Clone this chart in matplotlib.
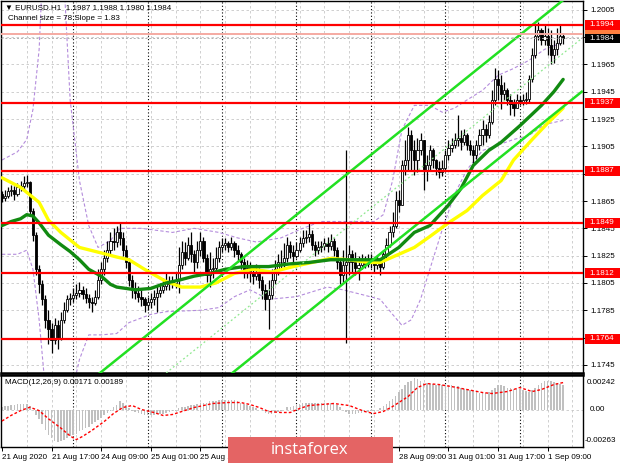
import matplotlib.pyplot as plt
from matplotlib.patches import Rectangle
from matplotlib.transforms import blended_transform_factory

plt.rcParams["font.family"] = ["Liberation Sans", "DejaVu Sans"]

# EURUSD H1 bars, 21 Aug 2020 01:00 .. 1 Sep 2020 14:00
closes = [
    1.1867, 1.1869, 1.1872, 1.1873, 1.1870, 1.1875, 1.1876, 1.1878, 1.1879, 1.1858,
    1.1840, 1.1815, 1.1804, 1.1793, 1.1778, 1.1771, 1.1763, 1.1774, 1.1765, 1.1778,
    1.1785, 1.1793, 1.1794, 1.1796, 1.1798, 1.1800, 1.1797, 1.1794, 1.1791, 1.1790,
    1.1795, 1.1807, 1.1815, 1.1823, 1.1829, 1.1836, 1.1835, 1.1842, 1.1838, 1.1829,
    1.1820, 1.1807, 1.1800, 1.1798, 1.1795, 1.1793, 1.1789, 1.1791, 1.1793, 1.1795,
    1.1798, 1.1800, 1.1803, 1.1806, 1.1804, 1.1805, 1.1807, 1.1818, 1.1828, 1.1823,
    1.1833, 1.1826, 1.1820, 1.1829, 1.1836, 1.1823, 1.1811, 1.1815, 1.1816, 1.1823,
    1.1831, 1.1833, 1.1834, 1.1831, 1.1834, 1.1829, 1.1826, 1.1820, 1.1813, 1.1816,
    1.1812, 1.1810, 1.1813, 1.1807, 1.1800, 1.1793, 1.1796, 1.1807, 1.1815, 1.1820,
    1.1820, 1.1823, 1.1833, 1.1828, 1.1825, 1.1829, 1.1834, 1.1838, 1.1839, 1.1841,
    1.1833, 1.1829, 1.1831, 1.1832, 1.1834, 1.1832, 1.1836, 1.1829, 1.1820, 1.1811,
    1.1818, 1.1820, 1.1826, 1.1820, 1.1816, 1.1818, 1.1820, 1.1819, 1.1822, 1.1820,
    1.1818, 1.1820, 1.1817, 1.1826, 1.1833, 1.1842, 1.1847, 1.1866, 1.1862, 1.1891,
    1.1895, 1.1913, 1.1902, 1.1895, 1.1902, 1.1910, 1.1888, 1.1891, 1.1902, 1.1895,
    1.1889, 1.1886, 1.1889, 1.1899, 1.1904, 1.1906, 1.1910, 1.1911, 1.1908, 1.1913,
    1.1906, 1.1902, 1.1899, 1.1906, 1.1913, 1.1918, 1.1913, 1.1923, 1.1939, 1.1954,
    1.1950, 1.1943, 1.1946, 1.1939, 1.1936, 1.1933, 1.1939, 1.1937, 1.1939, 1.1940,
    1.1954, 1.1972, 1.1986, 1.1990, 1.1983, 1.1986, 1.1979, 1.1972, 1.1976, 1.1981,
    1.1986, 1.1984,
]
highs = [
    1.1872, 1.1873, 1.1875, 1.1877, 1.1876, 1.1878, 1.1880, 1.1883, 1.1884, 1.1880,
    1.1860, 1.1842, 1.1818, 1.1807, 1.1796, 1.1785, 1.1776, 1.1779, 1.1778, 1.1784,
    1.1791, 1.1796, 1.1798, 1.1801, 1.1804, 1.1806, 1.1803, 1.1801, 1.1797, 1.1795,
    1.1800, 1.1815, 1.1820, 1.1829, 1.1836, 1.1842, 1.1845, 1.1847, 1.1849, 1.1842,
    1.1833, 1.1823, 1.1811, 1.1806, 1.1803, 1.1800, 1.1795, 1.1795, 1.1798, 1.1800,
    1.1803, 1.1805, 1.1809, 1.1812, 1.1810, 1.1810, 1.1813, 1.1831, 1.1836, 1.1835,
    1.1839, 1.1842, 1.1829, 1.1836, 1.1842, 1.1839, 1.1826, 1.1828, 1.1823, 1.1831,
    1.1836, 1.1838, 1.1838, 1.1836, 1.1839, 1.1836, 1.1833, 1.1828, 1.1823, 1.1822,
    1.1820, 1.1817, 1.1819, 1.1816, 1.1810, 1.1804, 1.1807, 1.1815, 1.1822, 1.1826,
    1.1829, 1.1834, 1.1839, 1.1836, 1.1833, 1.1835, 1.1839, 1.1844, 1.1844, 1.1849,
    1.1844, 1.1836, 1.1836, 1.1836, 1.1838, 1.1839, 1.1841, 1.1838, 1.1831, 1.1823,
    1.1829, 1.1902, 1.1833, 1.1829, 1.1828, 1.1825, 1.1826, 1.1825, 1.1826, 1.1826,
    1.1823, 1.1825, 1.1823, 1.1829, 1.1838, 1.1847, 1.1857, 1.1872, 1.1873, 1.1895,
    1.1910, 1.1919, 1.1917, 1.1910, 1.1911, 1.1915, 1.1910, 1.1899, 1.1906, 1.1904,
    1.1896, 1.1894, 1.1895, 1.1902, 1.1910, 1.1911, 1.1915, 1.1928, 1.1917, 1.1918,
    1.1915, 1.1910, 1.1906, 1.1910, 1.1918, 1.1924, 1.1921, 1.1928, 1.1946, 1.1962,
    1.1961, 1.1957, 1.1952, 1.1948, 1.1943, 1.1940, 1.1943, 1.1942, 1.1943, 1.1945,
    1.1957, 1.1977, 1.1994, 1.1996, 1.1992, 1.1994, 1.1992, 1.1990, 1.1983, 1.1992,
    1.1994, 1.1988,
]
lows = [
    1.1864, 1.1865, 1.1867, 1.1869, 1.1866, 1.1869, 1.1872, 1.1873, 1.1875, 1.1855,
    1.1836, 1.1811, 1.1798, 1.1789, 1.1772, 1.1760, 1.1754, 1.1760, 1.1757, 1.1763,
    1.1776, 1.1784, 1.1789, 1.1791, 1.1793, 1.1795, 1.1793, 1.1790, 1.1787, 1.1784,
    1.1789, 1.1793, 1.1804, 1.1811, 1.1820, 1.1825, 1.1829, 1.1831, 1.1833, 1.1825,
    1.1816, 1.1803, 1.1794, 1.1793, 1.1791, 1.1788, 1.1784, 1.1785, 1.1787, 1.1789,
    1.1784, 1.1795, 1.1798, 1.1800, 1.1800, 1.1801, 1.1801, 1.1798, 1.1815, 1.1818,
    1.1822, 1.1820, 1.1813, 1.1816, 1.1825, 1.1820, 1.1806, 1.1802, 1.1809, 1.1813,
    1.1820, 1.1828, 1.1829, 1.1828, 1.1829, 1.1824, 1.1820, 1.1815, 1.1809, 1.1809,
    1.1806, 1.1804, 1.1807, 1.1801, 1.1793, 1.1785, 1.1771, 1.1793, 1.1804, 1.1811,
    1.1815, 1.1817, 1.1820, 1.1823, 1.1820, 1.1823, 1.1828, 1.1831, 1.1834, 1.1835,
    1.1829, 1.1825, 1.1826, 1.1828, 1.1829, 1.1828, 1.1829, 1.1825, 1.1815, 1.1804,
    1.1806, 1.1761, 1.1811, 1.1813, 1.1811, 1.1807, 1.1815, 1.1816, 1.1817, 1.1816,
    1.1813, 1.1815, 1.1811, 1.1815, 1.1823, 1.1831, 1.1839, 1.1845, 1.1857, 1.1862,
    1.1884, 1.1888, 1.1888, 1.1884, 1.1886, 1.1899, 1.1873, 1.1880, 1.1888, 1.1889,
    1.1884, 1.1882, 1.1883, 1.1888, 1.1895, 1.1901, 1.1904, 1.1905, 1.1902, 1.1906,
    1.1902, 1.1899, 1.1893, 1.1896, 1.1902, 1.1906, 1.1908, 1.1911, 1.1921, 1.1935,
    1.1939, 1.1932, 1.1939, 1.1935, 1.1928, 1.1927, 1.1933, 1.1935, 1.1935, 1.1936,
    1.1937, 1.1952, 1.1970, 1.1983, 1.1979, 1.1979, 1.1972, 1.1965, 1.1966, 1.1972,
    1.1979, 1.1980,
]
# each bar opens at the previous close
opens = [1.1870] + closes[:-1]

# MACD(12,26,9) main values (histogram) for each bar
macd = [
    0.00016, 0.00024, 0.00024, 0.00032, 0.00032, 0.00041, 0.00041, 0.00041, 0.00041, 0.00024,
    0.0, -0.00041, -0.00065, -0.00105, -0.00146, -0.00178, -0.00203, -0.00219, -0.00227, -0.00219,
    -0.00211, -0.00203, -0.00186, -0.00178, -0.0017, -0.00154, -0.00146, -0.0013, -0.00122, -0.00105,
    -0.00089, -0.00073, -0.00057, -0.00041, -0.00024, -0.00008, 0.00016, 0.00032, 0.00057, 0.00049,
    0.00032, 0.00008, -0.00008, -0.00016, -0.00024, -0.00032, -0.00041, -0.00041, -0.00041, -0.00041,
    -0.00032, -0.00032, -0.00032, -0.00024, -0.00016, -0.00008, -0.00008, 0.00008, 0.00016, 0.00016,
    0.00024, 0.00032, 0.00032, 0.00041, 0.00049, 0.00049, 0.00049, 0.00057, 0.00057, 0.00057,
    0.00065, 0.00065, 0.00065, 0.00065, 0.00065, 0.00065, 0.00057, 0.00049, 0.00041, 0.00032,
    0.00024, 0.00016, 0.00008, 0.0, -0.00008, -0.00024, -0.00032, -0.00032, -0.00024, -0.00016,
    -0.00008, 0.0, 0.00016, 0.00016, 0.00024, 0.00032, 0.00041, 0.00049, 0.00049, 0.00049,
    0.00049, 0.00049, 0.00049, 0.00049, 0.00049, 0.00049, 0.00049, 0.00041, 0.00032, 0.00016,
    0.0, -0.00016, -0.00032, -0.00032, -0.00032, -0.00024, -0.00024, -0.00016, -0.00016, -0.00008,
    -0.00008, 0.0, 0.00008, 0.00024, 0.00041, 0.00057, 0.00073, 0.00097, 0.00122, 0.00146,
    0.0017, 0.00194, 0.00203, 0.00219, 0.00211, 0.00203, 0.00186, 0.00186, 0.00178, 0.00178,
    0.0017, 0.0017, 0.0017, 0.0017, 0.0017, 0.0017, 0.00162, 0.00162, 0.00154, 0.00146,
    0.00138, 0.00138, 0.0013, 0.00122, 0.00113, 0.00113, 0.00113, 0.00122, 0.00138, 0.00154,
    0.0017, 0.0017, 0.00162, 0.00154, 0.00154, 0.00146, 0.00146, 0.00146, 0.00138, 0.0013,
    0.00122, 0.00138, 0.00154, 0.0017, 0.00186, 0.00203, 0.00203, 0.00203, 0.00194, 0.00186,
    0.00178, 0.00171,
]
signal_x = [0, 3, 6, 9, 12, 15, 19, 22, 24, 26, 29, 33, 36, 39, 42, 45, 49, 52, 55, 58,
            62, 65, 68, 73, 77, 80, 83, 86, 90, 93, 96, 99, 103, 107, 112, 117, 120, 123,
            126, 131, 134, 137, 141, 145, 150, 155, 158, 163, 167, 171, 174, 178, 181]
signal = [-0.00081, -0.00041, -0.00008, 0.00016, -0.00008, -0.00065, -0.0013, -0.00186,
          -0.00211, -0.00189, -0.00147, -0.00084, -0.00028, 0.00014, 0.00028, 0.0, -0.00021,
          -0.00042, -0.00035, -0.00014, 0.00014, 0.00028, 0.00042, 0.00049, 0.00049, 0.00035,
          0.00014, -0.00014, -0.00021, -0.00021, 0.00007, 0.00028, 0.00035, 0.00042, 0.00028,
          -0.00014, -0.00028, -0.00014, 0.00021, 0.00091, 0.00154, 0.00182, 0.00175, 0.00161,
          0.0014, 0.00119, 0.00112, 0.00126, 0.00154, 0.00126, 0.0014, 0.00175, 0.00189]

# moving averages (dark green = faster, yellow = slower)
ma_green_x = [0, 3, 6, 8, 10, 12, 15, 19, 22, 25, 28, 32, 35, 37, 40, 43, 48, 53, 57, 62,
              67, 72, 78, 86, 93, 99, 106, 111, 117, 122, 124, 128, 133, 138, 144, 148,
              152, 157, 161, 167, 174, 178, 181]
ma_green = [1.1847, 1.1850, 1.1852, 1.1855, 1.1854, 1.1849, 1.1840, 1.1833, 1.1828, 1.1822,
            1.1815, 1.1810, 1.1804, 1.1802, 1.1801, 1.1800, 1.1801, 1.1805, 1.1807, 1.1810,
            1.1812, 1.1815, 1.1817, 1.1817, 1.1819, 1.1820, 1.1822, 1.1822, 1.1822, 1.1822,
            1.1825, 1.1831, 1.1842, 1.1847, 1.1862, 1.1874, 1.1891, 1.1902, 1.1908, 1.1920,
            1.1935, 1.1945, 1.1954]
ma_yellow_x = [0, 6, 12, 15, 19, 25, 32, 37, 41, 46, 53, 58, 64, 69, 75, 81, 87, 94, 100,
               106, 112, 118, 122, 128, 133, 138, 144, 150, 155, 161, 165, 171, 176, 181]
ma_yellow = [1.1882, 1.1875, 1.1864, 1.1851, 1.1842, 1.1831, 1.1827, 1.1824, 1.1822, 1.1815,
             1.1806, 1.1802, 1.1802, 1.1805, 1.1812, 1.1815, 1.1813, 1.1817, 1.1820, 1.1823,
             1.1822, 1.1820, 1.1820, 1.1826, 1.1831, 1.1839, 1.1849, 1.1858, 1.1869, 1.1880,
             1.1895, 1.1910, 1.1922, 1.1933]

# envelope bands (purple dashed)
band_up_x = [0, 5, 8, 10, 12, 13, 20, 22, 25, 28, 31, 35, 38, 45, 55, 62, 70, 76, 82, 90,
             97, 103, 110, 120, 123, 126, 129, 133, 138, 142, 146, 150, 155, 160, 165, 170,
             175, 181]
band_up = [1.1895, 1.1901, 1.1910, 1.1932, 1.1976, 1.2027, 1.2027, 1.1939, 1.1880, 1.1847,
           1.1831, 1.1836, 1.1845, 1.1845, 1.1842, 1.1845, 1.1842, 1.1838, 1.1835, 1.1838,
           1.1845, 1.1850, 1.1850, 1.1850, 1.1855, 1.1880, 1.1917, 1.1935, 1.1935, 1.1930,
           1.1933, 1.1939, 1.1946, 1.1957, 1.1962, 1.1968, 1.1976, 1.1981]
band_dn_x = [0, 5, 8, 10, 12, 14, 22, 25, 28, 32, 37, 41, 48, 53, 64, 70, 75, 80, 86, 95,
             105, 110, 117, 122, 126, 129, 132, 135, 138, 142, 146, 150, 155, 160, 165, 170,
             175, 181]
band_dn = [1.1826, 1.1826, 1.1829, 1.1815, 1.1778, 1.1727, 1.1719, 1.1749, 1.1767, 1.1767,
           1.1768, 1.1776, 1.1782, 1.1784, 1.1785, 1.1787, 1.1795, 1.1800, 1.1793, 1.1795,
           1.1802, 1.1800, 1.1796, 1.1793, 1.1782, 1.1774, 1.1778, 1.1793, 1.1815, 1.1844,
           1.1870, 1.1888, 1.1902, 1.1906, 1.1910, 1.1913, 1.1921, 1.1924]

# regression channel end points
chan_x = [31, 187]
chan_upper = [1.1738, 1.2023]
chan_mid = [1.1699, 1.1984]
chan_lower = [1.1660, 1.1945]

levels = [1.1994, 1.1937, 1.1887, 1.1849, 1.1812, 1.1764]
ask, bid = 1.1987, 1.1984

price_ticks = [1.1745, 1.1765, 1.1785, 1.1805, 1.1825, 1.1845, 1.1865, 1.1885,
               1.1905, 1.1925, 1.1945, 1.1965, 1.1985, 1.2005]
# labels hidden behind the level tags are left blank
price_labels = ["1.1745", "", "1.1785", "1.1805", "1.1825", "1.1845", "1.1865", "",
                "1.1905", "1.1925", "1.1945", "1.1965", "", "1.2005"]
time_ticks = [0, 16, 32, 48, 64, 80, 96, 112, 128, 144, 160, 176]
# labels under the watermark are left blank
time_labels = ["21 Aug 2020", "21 Aug 17:00", "24 Aug 09:00", "25 Aug 01:00",
               "25 Aug 17:00", "", "", "",
               "28 Aug 09:00", "31 Aug 01:00", "31 Aug 17:00", "1 Sep 09:00"]
day_starts = [23, 47, 71, 95, 119, 143, 167]

FS = 5.8
GRID = dict(color="#c8c8c8", lw=0.6, ls=(0, (3, 3)))

fig = plt.figure(figsize=(6.2, 4.65), dpi=100)
ax = fig.add_axes([1 / 620, 1 - 373 / 465, 582 / 620, 372 / 465])
ax2 = fig.add_axes([1 / 620, 1 - 447 / 465, 582 / 620, 72 / 465])

xlim = (-0.3, 187.4)
for a in (ax, ax2):
    a.set_xlim(*xlim)
    for s in a.spines.values():
        s.set_color("black")
        s.set_linewidth(1.0)
    for gx in range(8, 188, 8):
        a.axvline(gx, zorder=0.5, **GRID)
    for d in day_starts:
        a.axvline(d, color="black", lw=0.8, ls=(0, (1, 2)), zorder=0.6)
ax.spines["bottom"].set_linewidth(1.8)
ax2.spines["top"].set_linewidth(1.8)

# ---- price panel ----
ax.set_ylim(1.17391, 1.20114)
ax.set_xticks([])
ax.yaxis.tick_right()
ax.set_yticks(price_ticks)
ax.set_yticklabels(price_labels)
ax.tick_params(axis="y", labelsize=FS, length=3, width=0.7, pad=2)
for p in price_ticks:
    ax.axhline(p, zorder=0.5, **GRID)

ax.plot(band_up_x, band_up, color="#b48cdc", lw=0.8, ls=(0, (3, 2)), zorder=1)
ax.plot(band_dn_x, band_dn, color="#b48cdc", lw=0.8, ls=(0, (3, 2)), zorder=1)

idx = list(range(len(closes)))
ax.vlines(idx, lows, highs, color="black", lw=0.9, zorder=3)
bodies = [c - o for o, c in zip(opens, closes)]
faces = ["white" if c >= o else "black" for o, c in zip(opens, closes)]
ax.bar(idx, bodies, bottom=opens, width=0.7, color=faces, edgecolor="black",
       linewidth=0.6, zorder=3.1)

ax.plot(ma_yellow_x, ma_yellow, color="#ffff00", lw=2.4, zorder=3.5, solid_capstyle="round")
ax.plot(ma_green_x, ma_green, color="#118a11", lw=2.4, zorder=3.6, solid_capstyle="round")

ax.plot(chan_x, chan_upper, color="#22e022", lw=1.8, zorder=4)
ax.plot(chan_x, chan_lower, color="#22e022", lw=1.8, zorder=4)
ax.plot(chan_x, chan_mid, color="#8fe88f", lw=0.9, ls=(0, (1.5, 2)), zorder=4)

trans = blended_transform_factory(ax.transAxes, ax.transData)
ax.axhline(ask, color="#f5aaa2", lw=1.4, zorder=4)
ax.axhline(bid, color="#b0b0b0", lw=0.7, ls=(0, (2, 2)), zorder=4)
for lv in levels:
    ax.axhline(lv, color="#ff0000", lw=1.6, zorder=4.5)

box_h = 0.00072
ax.add_patch(Rectangle((1.003, ask - box_h / 2), 0.06, box_h, transform=trans,
                       facecolor="#ff7f3f", edgecolor="none", clip_on=False, zorder=6))
tags = [(lv, "#ff0000") for lv in levels] + [(bid, "black")]
for lv, fc in tags:
    ax.add_patch(Rectangle((1.003, lv - box_h / 2), 0.06, box_h, transform=trans,
                           facecolor=fc, edgecolor="none", clip_on=False, zorder=6))
    ax.text(1.033, lv, f"{lv:.4f}", transform=trans, color="white", fontsize=FS,
            ha="center", va="center", zorder=7, clip_on=False)

fig.text(5 / 620, 1 - 8 / 465, "\u25bc EURUSD.H1  1.1987 1.1988 1.1980 1.1984",
         fontsize=FS, va="center", ha="left")
fig.text(8 / 620, 1 - 18 / 465, "Channel size = 78 Slope = 1.83",
         fontsize=FS, va="center", ha="left")

# ---- MACD panel ----
ax2.set_ylim(-0.00263, 0.00242)
ax2.bar(idx, macd, width=0.5, color="#c0c0c0", zorder=2)
ax2.plot(signal_x, signal, color="#ff0000", lw=1.0, ls=(0, (2, 1.5)), zorder=3)
ax2.axhline(0, zorder=0.5, **GRID)
ax2.set_yticks([])
trans2 = blended_transform_factory(ax2.transAxes, ax2.transData)
ax2.text(1.012, 0.0, "0.00", transform=trans2, fontsize=FS, va="center", ha="left")
ax2.text(1.006, 0.889, "0.00242", transform=ax2.transAxes, fontsize=FS, va="center", ha="left")
ax2.text(1.002, 0.097, "-0.00263", transform=ax2.transAxes, fontsize=FS, va="center", ha="left")
ax2.set_xticks(time_ticks)
ax2.set_xticklabels(time_labels, ha="left")
ax2.tick_params(axis="x", labelsize=FS, length=3, width=0.7, pad=2)
fig.text(5 / 620, 1 - 382 / 465, "MACD(12,26,9) 0.00171 0.00189",
         fontsize=FS, va="center", ha="left")

# watermark
fig.add_artist(Rectangle((228 / 620, 1 - 463 / 465), 165 / 620, 26 / 465,
                         transform=fig.transFigure, facecolor="#e46464",
                         edgecolor="none", zorder=10))
fig.text(310 / 620, 1 - 450 / 465, "instaforex", color="white", fontsize=12,
         family="Open Sans", ha="center", va="center", zorder=11)

fig.savefig("out.png", dpi=100)
